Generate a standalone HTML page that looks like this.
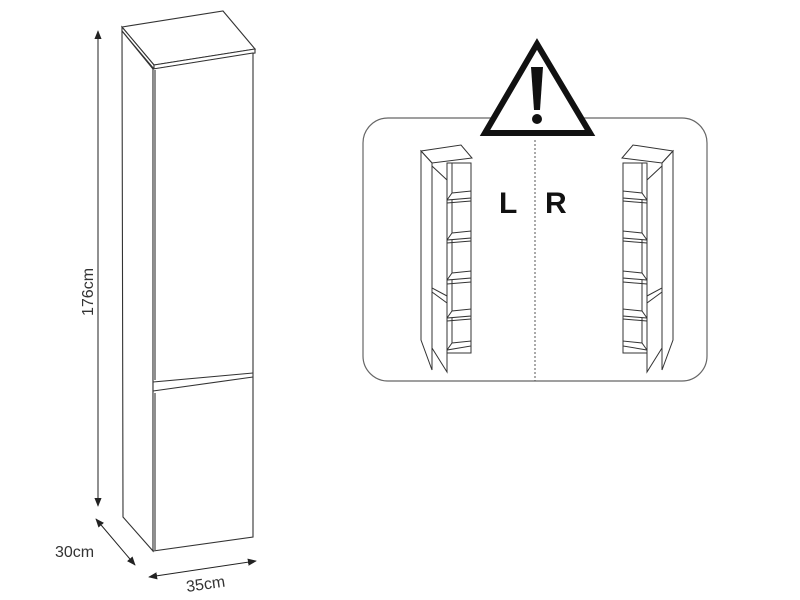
<!DOCTYPE html>
<html><head><meta charset="utf-8"><style>
html,body{margin:0;padding:0;background:#fff;width:800px;height:600px;overflow:hidden}
</style></head><body>
<svg width="800" height="600" viewBox="0 0 800 600" xmlns="http://www.w3.org/2000/svg">
<defs>
<marker id="ah" viewBox="0 0 10 10" refX="9" refY="5" markerWidth="9" markerHeight="9" orient="auto-start-reverse" markerUnits="userSpaceOnUse">
<path d="M0,1 L10,5 L0,9 Z" fill="#222"/>
</marker>
<g id="mini" fill="#fff" stroke="#333" stroke-width="1">
<polygon points="421,151 461,145 472,158 432,163"/>
<polygon points="421,151 432,163 432,370 421,340"/>
<rect x="447" y="163" width="24" height="190"/>
<line x1="452" y1="163" x2="452" y2="345"/>
<polygon points="447,200 452,193 471,191 471,198" />
<line x1="447" y1="203" x2="471" y2="201"/>
<polygon points="447,240 452,233 471,231 471,238" />
<line x1="447" y1="243" x2="471" y2="241"/>
<polygon points="447,280 452,273 471,271 471,278" />
<line x1="447" y1="284" x2="471" y2="282"/>
<polygon points="447,318 452,311 471,309 471,316" />
<line x1="447" y1="321" x2="471" y2="319"/>
<polygon points="447,350 452,343 471,341 471,346" />
<polygon points="432,166 447,180 447,296 432,288"/>
<polygon points="432,292 447,303 447,372 432,348"/>
</g>
</defs>
<g fill="#fff" stroke="#333" stroke-width="1.1">
<polygon points="122,27 223,11 255,49 154,65"/>
<polygon points="122,27 154,65 154,69 122,31"/>
<polygon points="154,65 255,49 255,53 154,69"/>
<polygon points="122,31 153,69 153,551 123,517"/>
<polygon points="153,69 253,53 253,537 153,551"/>
<line x1="155" y1="70" x2="155" y2="380"/>
<line x1="153" y1="382" x2="253" y2="373"/>
<line x1="153" y1="391" x2="253" y2="377"/>
<line x1="155" y1="393" x2="155" y2="550"/>
</g>
<g stroke="#222" stroke-width="1">
<line x1="98" y1="31" x2="98" y2="506" marker-start="url(#ah)" marker-end="url(#ah)"/>
<line x1="96" y1="519" x2="135" y2="565" marker-start="url(#ah)" marker-end="url(#ah)"/>
<line x1="149" y1="577" x2="256" y2="561" marker-start="url(#ah)" marker-end="url(#ah)"/>
</g>
<g font-family="Liberation Sans, sans-serif" font-size="16" fill="#333">
<text transform="translate(93,316) rotate(-90)">176cm</text>
<text x="55" y="557">30cm</text>
<text transform="translate(187,592) rotate(-8)">35cm</text>
</g>
<rect x="363" y="118" width="344" height="263" rx="25" fill="#fff" stroke="#666" stroke-width="1.2"/>
<line x1="535" y1="140" x2="535" y2="381" stroke="#555" stroke-dasharray="2,2"/>
<polygon points="537,44 485,133 590,133" fill="#fff" stroke="#111" stroke-width="6" stroke-linejoin="miter"/>
<polygon points="531,67 543,67 540,110 534,110" fill="#111"/>
<circle cx="537" cy="119" r="5" fill="#111"/>
<g font-family="Liberation Sans, sans-serif" font-weight="bold" font-size="30" fill="#111">
<text x="499" y="213">L</text>
<text x="545" y="213">R</text>
</g>
<use href="#mini"/>
<use href="#mini" transform="translate(1094,0) scale(-1,1)"/>
</svg>
</body></html>
